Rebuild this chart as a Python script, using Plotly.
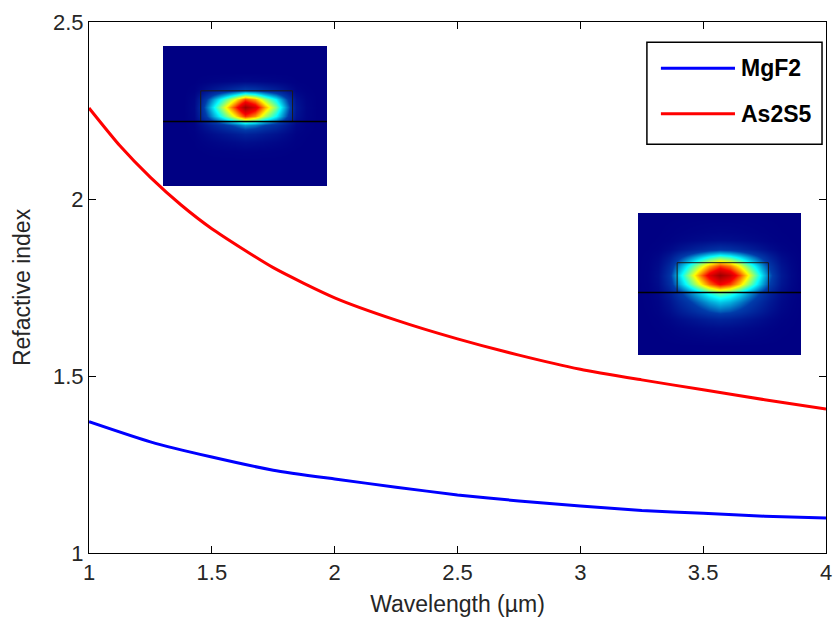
import numpy as np
import plotly.graph_objects as go

# ---- data ----
wl_mgf2 = [1.0, 1.25, 1.5, 1.75, 2.0, 2.25, 2.5, 2.75, 3.0, 3.25, 3.5, 3.75, 4.0]
n_mgf2 = [1.371, 1.314, 1.271, 1.234, 1.209, 1.186, 1.164, 1.147, 1.133, 1.120, 1.112, 1.104, 1.099]
wl_as2s5 = [1.0, 1.125, 1.25, 1.375, 1.5, 1.75, 2.0, 2.25, 2.5, 2.75, 3.0, 3.25, 3.5, 3.75, 4.0]
n_as2s5 = [2.257, 2.151, 2.061, 1.983, 1.916, 1.806, 1.721, 1.658, 1.605, 1.559, 1.519, 1.489, 1.461, 1.433, 1.407]
series_names = ["MgF2", "As2S5"]
series_colors = ["#0000ff", "#ff0000"]

x_ticks = [1, 1.5, 2, 2.5, 3, 3.5, 4]
y_ticks = [1, 1.5, 2, 2.5]

grid = [i / 16 for i in range(17)]
mode1_cols = [0, 0, 0, 0.03, 0.22, 0.42, 0.6, 0.8, 1.0, 0.9, 0.7, 0.52, 0.3, 0.08, 0.02, 0, 0]
mode1_rows = [0, 0, 0, 0, 0.03, 0.22, 0.78, 1.0, 0.8, 0.3, 0.12, 0.05, 0.01, 0, 0, 0, 0]
mode2_cols = [0, 0.01, 0.05, 0.18, 0.38, 0.55, 0.72, 0.88, 1.0, 0.93, 0.78, 0.6, 0.42, 0.24, 0.09, 0.03, 0]
mode2_rows = [0, 0.01, 0.02, 0.05, 0.18, 0.5, 0.8, 1.0, 0.85, 0.5, 0.36, 0.25, 0.12, 0.05, 0.02, 0, 0]
mode_peak = 0.95
# waveguide outline (fraction of inset: x0, x1, y0, y1) and substrate line
guide1 = [0.23, 0.79, 0.32, 0.54]
guide2 = [0.24, 0.80, 0.35, 0.56]

FONT = "Liberation Sans, Arial, sans-serif"

fig = go.Figure()
for name, col, xs, vals in zip(series_names, series_colors, [wl_mgf2, wl_as2s5], [n_mgf2, n_as2s5]):
    fig.add_trace(go.Scatter(x=xs, y=vals, mode="lines", name=name,
                             line=dict(color=col, width=3, shape="spline", smoothing=0.6),
                             showlegend=False, xaxis="x", yaxis="y"))

for k, (cols, rows) in enumerate([(mode1_cols, mode1_rows), (mode2_cols, mode2_rows)]):
    z = mode_peak * np.outer(np.array(rows), np.array(cols))
    ax = str(k + 2)
    fig.add_trace(go.Heatmap(x=grid, y=grid, z=z, colorscale="Jet", zmin=0, zmax=1,
                             zsmooth="best", showscale=False, hoverinfo="skip",
                             xaxis="x" + ax, yaxis="y" + ax))

layout_shapes = []
for k, g in enumerate([guide1, guide2]):
    ax = str(k + 2)
    layout_shapes.append(dict(type="rect", xref="x" + ax, yref="y" + ax,
                              x0=g[0], x1=g[1], y0=g[2], y1=g[3],
                              line=dict(color="#1a1a1a", width=1)))
    layout_shapes.append(dict(type="line", xref="x" + ax, yref="y" + ax,
                              x0=0, x1=1, y0=g[3], y1=g[3],
                              line=dict(color="#000000", width=1.5)))

# legend drawn as a boxed key (top-right)
leg_x0, leg_x1, leg_y0, leg_y1 = 0.757, 0.9946, 0.770, 0.962
layout_shapes.append(dict(type="rect", xref="paper", yref="paper",
                          x0=leg_x0, x1=leg_x1, y0=leg_y0, y1=leg_y1,
                          line=dict(color="#000000", width=1.5), fillcolor="white", layer="above"))
annotations = []
for i, (name, col) in enumerate(zip(series_names, series_colors)):
    yy = 0.913 - i * 0.086
    layout_shapes.append(dict(type="line", xref="paper", yref="paper",
                              x0=0.776, x1=0.8765, y0=yy, y1=yy,
                              line=dict(color=col, width=3), layer="above"))
    annotations.append(dict(xref="paper", yref="paper", x=0.882, y=yy, text="<b>" + name + "</b>",
                            showarrow=False, xanchor="left", yanchor="middle",
                            font=dict(family=FONT, size=23, color="#000")))

axis_common = dict(showline=True, linecolor="#000", linewidth=1, mirror="ticks",
                   ticks="inside", ticklen=7, tickcolor="#000", showgrid=False, zeroline=False,
                   automargin=False,
                   tickfont=dict(family=FONT, size=22, color="#262626"))

fig.update_layout(
    width=833, height=623,
    margin=dict(l=89, r=7, t=22, b=70),
    paper_bgcolor="white", plot_bgcolor="white",
    xaxis=dict(range=[1, 4], tickvals=x_ticks, domain=[0, 1],
               title=dict(text="Wavelength (µm)", font=dict(family=FONT, size=23, color="#262626"), standoff=11),
               **axis_common),
    yaxis=dict(range=[1, 2.5], tickvals=y_ticks, domain=[0, 1],
               title=dict(text="Refactive index", font=dict(family=FONT, size=23, color="#262626"), standoff=15),
               **axis_common),
    xaxis2=dict(domain=[0.1004, 0.3229], range=[0, 1], visible=False, anchor="y2"),
    yaxis2=dict(domain=[0.6911, 0.9548], range=[1, 0], visible=False, anchor="x2"),
    xaxis3=dict(domain=[0.7449, 0.9661], range=[0, 1], visible=False, anchor="y3"),
    yaxis3=dict(domain=[0.3729, 0.6403], range=[1, 0], visible=False, anchor="x3"),
    shapes=layout_shapes,
    annotations=annotations,
)

fig.write_html("out.html", config={"displayModeBar": False},
               post_script="document.body.style.margin='0px';")
